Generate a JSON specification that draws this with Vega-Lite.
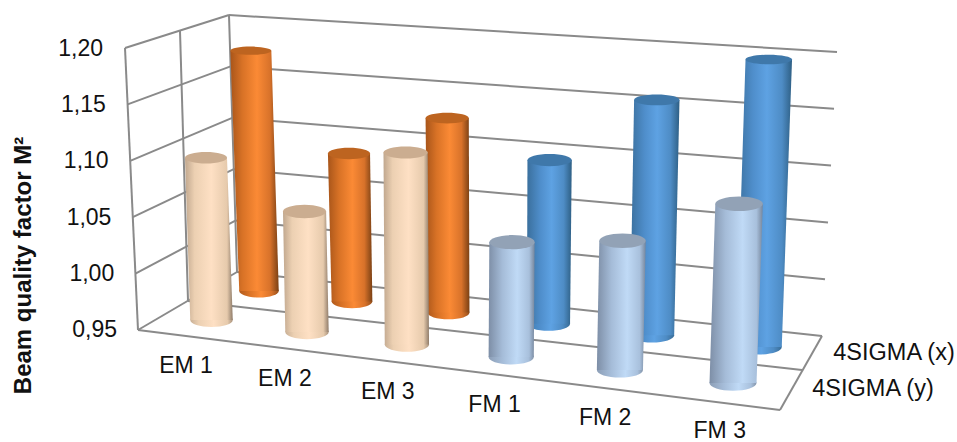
{
  "$schema": "https://vega.github.io/schema/vega-lite/v6.json",
  "width": 957,
  "height": 442,
  "padding": 0,
  "autosize": {"type": "none"},
  "background": "white",
  "config": {
    "view": {"stroke": null},
    "text": {"font": "Liberation Sans", "fontSize": 23, "color": "#111111"}
  },
  "data": {
    "values": [
      {"group": "EM 1", "series": "4SIGMA (y)", "value": 1.097},
      {"group": "EM 2", "series": "4SIGMA (y)", "value": 1.057},
      {"group": "EM 3", "series": "4SIGMA (y)", "value": 1.117},
      {"group": "FM 1", "series": "4SIGMA (y)", "value": 1.048},
      {"group": "FM 2", "series": "4SIGMA (y)", "value": 1.058},
      {"group": "FM 3", "series": "4SIGMA (y)", "value": 1.097},
      {"group": "EM 1", "series": "4SIGMA (x)", "value": 1.178},
      {"group": "EM 2", "series": "4SIGMA (x)", "value": 1.0875},
      {"group": "EM 3", "series": "4SIGMA (x)", "value": 1.127},
      {"group": "FM 1", "series": "4SIGMA (x)", "value": 1.096},
      {"group": "FM 2", "series": "4SIGMA (x)", "value": 1.156},
      {"group": "FM 3", "series": "4SIGMA (x)", "value": 1.197}
    ]
  },
  "transform": [
    {"calculate": "indexof(['EM 1','EM 2','EM 3','FM 1','FM 2','FM 3'], datum.group)", "as": "i"},
    {"calculate": "datum.series === '4SIGMA (x)' ? 1 : 0", "as": "s"},
    {"calculate": "(datum.i < 3 ? 'warm' : 'cool') + (datum.s ? 'Back' : 'Front')", "as": "pal"},
    {"calculate": "datum.s ? 259 + 91.25*datum.i + 1.75*datum.i*datum.i : 211.5 + 93.3*datum.i + 2.2*datum.i*datum.i", "as": "bx"},
    {"calculate": "datum.s ? 291 + 10.4*datum.i + 0.16*datum.i*datum.i : 320 + 12*datum.i + 0.12*datum.i*datum.i", "as": "by"},
    {"calculate": "(datum.value - 0.95) * (datum.s ? 1054 + 22*datum.i : 1104 + 23*datum.i)", "as": "h"},
    {"calculate": "datum.bx + (-0.034 + 0.0136*datum.i) * datum.h", "as": "tx"},
    {"calculate": "datum.by - datum.h", "as": "ty"},
    {"calculate": "['base','top']", "as": "end"},
    {"flatten": ["end"]},
    {"calculate": "datum.end === 'top' ? datum.tx : datum.bx", "as": "px"},
    {"calculate": "datum.end === 'top' ? datum.ty : datum.by", "as": "py"},
    {"calculate": "datum.end === 'top' ? (datum.s ? 41 : 42) + 1.1*datum.i : (datum.s ? 39.5 + 1.2*datum.i : 42.5 + 0.9*datum.i)", "as": "pw"},
    {"calculate": "datum.px - datum.pw/2", "as": "left"},
    {"calculate": "datum.px + datum.pw/2", "as": "right"},
    {"calculate": "datum.pw * datum.pw", "as": "sz"},
    {"calculate": "datum.end === 'top' ? clamp(0.2 + (datum.py - 50)*0.0007, 0.2, 0.31) : 0.33", "as": "squash"},
    {"calculate": "'M-1,0A1,' + datum.squash + ',0,1,0,1,0A1,' + datum.squash + ',0,1,0,-1,0Z'", "as": "disc"}
  ],
  "encoding": {
    "x": {"field": "px", "type": "quantitative", "axis": null, "scale": {"domain": [0, 957], "nice": false, "zero": false}},
    "y": {
      "field": "py",
      "type": "quantitative",
      "scale": {"domain": [442, 0], "nice": false, "zero": false},
      "title": "Beam quality factor M²",
      "axis": {
        "labels": false, "ticks": false, "domain": false, "grid": false,
        "title": "Beam quality factor M²",
        "titleFont": "Liberation Sans", "titleFontSize": 24, "titleFontWeight": "bold", "titleColor": "#111111",
        "titleAngle": 270, "titleAlign": "center", "titleBaseline": "middle",
        "titleX": 23, "titleY": 265
      }
    }
  },
  "layer": [
    {
      "data": {"values": [{"level": 0.95}, {"level": 1.0}, {"level": 1.05}, {"level": 1.1}, {"level": 1.15}, {"level": 1.2}]},
      "transform": [
        {"calculate": "datum.level - 0.95", "as": "L"},
        {"calculate": "138 - datum.L*52", "as": "px"},
        {"calculate": "330 - datum.L*1128", "as": "py"},
        {"calculate": "237 - datum.L*32", "as": "px2"},
        {"calculate": "272 - datum.L*1028", "as": "py2"}
      ],
      "mark": {"type": "rule", "color": "#8a8a8a", "strokeWidth": 2},
      "encoding": {"x2": {"field": "px2"}, "y2": {"field": "py2"}}
    },
    {
      "data": {"values": [{"level": 0.95}, {"level": 1.0}, {"level": 1.05}, {"level": 1.1}, {"level": 1.15}, {"level": 1.2}]},
      "transform": [
        {"calculate": "datum.level - 0.95", "as": "L"},
        {"calculate": "237 - datum.L*32", "as": "px"},
        {"calculate": "272 - datum.L*1028", "as": "py"},
        {"calculate": "822 + datum.L*60", "as": "px2"},
        {"calculate": "336 - datum.L*1136", "as": "py2"}
      ],
      "mark": {"type": "rule", "color": "#8a8a8a", "strokeWidth": 2},
      "encoding": {"x2": {"field": "px2"}, "y2": {"field": "py2"}}
    },
    {
      "data": {"values": [{"edge": "wallFront"}, {"edge": "wallMiddle"}, {"edge": "wallBack"}, {"edge": "floorFront"}, {"edge": "floorMiddle"}, {"edge": "floorSide"}]},
      "transform": [
        {"calculate": "{wallFront:125, wallMiddle:180, wallBack:229, floorFront:138, floorMiddle:188, floorSide:780}[datum.edge]", "as": "px"},
        {"calculate": "{wallFront:48, wallMiddle:31, wallBack:15, floorFront:330, floorMiddle:301, floorSide:410}[datum.edge]", "as": "py"},
        {"calculate": "{wallFront:138, wallMiddle:188, wallBack:237, floorFront:780, floorMiddle:802, floorSide:822}[datum.edge]", "as": "px2"},
        {"calculate": "{wallFront:330, wallMiddle:301, wallBack:272, floorFront:410, floorMiddle:370, floorSide:336}[datum.edge]", "as": "py2"}
      ],
      "mark": {"type": "rule", "color": "#8a8a8a", "strokeWidth": 2},
      "encoding": {"x2": {"field": "px2"}, "y2": {"field": "py2"}}
    },

    {
      "transform": [{"filter": "datum.pal === 'warmBack' && datum.end === 'base'"}],
      "mark": {"type": "point", "filled": true, "opacity": 1, "strokeWidth": 0,
        "color": {"gradient": "linear", "x1": 0, "x2": 1, "y1": 0, "y2": 0, "stops": [
          {"offset": 0, "color": "#b05a1c"}, {"offset": 0.25, "color": "#d87226"}, {"offset": 0.55, "color": "#fb8a35"}, {"offset": 0.82, "color": "#d8722a"}, {"offset": 1, "color": "#96501c"}]}},
      "encoding": {"size": {"field": "sz", "type": "quantitative", "scale": null}, "shape": {"field": "disc", "type": "nominal", "scale": null, "legend": null}}
    },
    {
      "transform": [{"filter": "datum.pal === 'warmBack'"}],
      "mark": {"type": "area", "orient": "horizontal",
        "color": {"gradient": "linear", "x1": 0, "x2": 1, "y1": 0, "y2": 0, "stops": [
          {"offset": 0, "color": "#a8551a"}, {"offset": 0.25, "color": "#d87226"}, {"offset": 0.55, "color": "#fb8a35"}, {"offset": 0.82, "color": "#d8722a"}, {"offset": 1, "color": "#7a4014"}]}},
      "encoding": {
        "x": {"field": "left", "type": "quantitative", "axis": null, "scale": {"domain": [0, 957], "nice": false, "zero": false}},
        "x2": {"field": "right"},
        "detail": {"field": "group"}
      }
    },
    {
      "transform": [{"filter": "datum.pal === 'warmBack' && datum.end === 'top'"}],
      "mark": {"type": "point", "filled": true, "opacity": 1, "strokeWidth": 0, "color": "#bd6420"},
      "encoding": {"size": {"field": "sz", "type": "quantitative", "scale": null}, "shape": {"field": "disc", "type": "nominal", "scale": null, "legend": null}}
    },

    {
      "transform": [{"filter": "datum.pal === 'coolBack' && datum.end === 'base'"}],
      "mark": {"type": "point", "filled": true, "opacity": 1, "strokeWidth": 0,
        "color": {"gradient": "linear", "x1": 0, "x2": 1, "y1": 0, "y2": 0, "stops": [
          {"offset": 0, "color": "#3f7cb0"}, {"offset": 0.3, "color": "#4f8ecb"}, {"offset": 0.55, "color": "#5ea2e3"}, {"offset": 0.82, "color": "#4e8cc5"}, {"offset": 1, "color": "#386c96"}]}},
      "encoding": {"size": {"field": "sz", "type": "quantitative", "scale": null}, "shape": {"field": "disc", "type": "nominal", "scale": null, "legend": null}}
    },
    {
      "transform": [{"filter": "datum.pal === 'coolBack'"}],
      "mark": {"type": "area", "orient": "horizontal",
        "color": {"gradient": "linear", "x1": 0, "x2": 1, "y1": 0, "y2": 0, "stops": [
          {"offset": 0, "color": "#3a6f9c"}, {"offset": 0.3, "color": "#4f8ecb"}, {"offset": 0.55, "color": "#5ea2e3"}, {"offset": 0.82, "color": "#4e8cc5"}, {"offset": 1, "color": "#2e5f84"}]}},
      "encoding": {
        "x": {"field": "left", "type": "quantitative", "axis": null, "scale": {"domain": [0, 957], "nice": false, "zero": false}},
        "x2": {"field": "right"},
        "detail": {"field": "group"}
      }
    },
    {
      "transform": [{"filter": "datum.pal === 'coolBack' && datum.end === 'top'"}],
      "mark": {"type": "point", "filled": true, "opacity": 1, "strokeWidth": 0, "color": "#3f78aa"},
      "encoding": {"size": {"field": "sz", "type": "quantitative", "scale": null}, "shape": {"field": "disc", "type": "nominal", "scale": null, "legend": null}}
    },

    {
      "transform": [{"filter": "datum.pal === 'warmFront' && datum.end === 'base'"}],
      "mark": {"type": "point", "filled": true, "opacity": 1, "strokeWidth": 0,
        "color": {"gradient": "linear", "x1": 0, "x2": 1, "y1": 0, "y2": 0, "stops": [
          {"offset": 0, "color": "#c9b096"}, {"offset": 0.2, "color": "#ecd0b2"}, {"offset": 0.55, "color": "#fee0c4"}, {"offset": 0.88, "color": "#e6caac"}, {"offset": 1, "color": "#a8927c"}]}},
      "encoding": {"size": {"field": "sz", "type": "quantitative", "scale": null}, "shape": {"field": "disc", "type": "nominal", "scale": null, "legend": null}}
    },
    {
      "transform": [{"filter": "datum.pal === 'warmFront'"}],
      "mark": {"type": "area", "orient": "horizontal",
        "color": {"gradient": "linear", "x1": 0, "x2": 1, "y1": 0, "y2": 0, "stops": [
          {"offset": 0, "color": "#c0a78e"}, {"offset": 0.2, "color": "#ecd0b2"}, {"offset": 0.55, "color": "#fee0c4"}, {"offset": 0.88, "color": "#e6caac"}, {"offset": 1, "color": "#8f7c6a"}]}},
      "encoding": {
        "x": {"field": "left", "type": "quantitative", "axis": null, "scale": {"domain": [0, 957], "nice": false, "zero": false}},
        "x2": {"field": "right"},
        "detail": {"field": "group"}
      }
    },
    {
      "transform": [{"filter": "datum.pal === 'warmFront' && datum.end === 'top'"}],
      "mark": {"type": "point", "filled": true, "opacity": 1, "strokeWidth": 0, "color": "#cbad90"},
      "encoding": {"size": {"field": "sz", "type": "quantitative", "scale": null}, "shape": {"field": "disc", "type": "nominal", "scale": null, "legend": null}}
    },

    {
      "transform": [{"filter": "datum.pal === 'coolFront' && datum.end === 'base'"}],
      "mark": {"type": "point", "filled": true, "opacity": 1, "strokeWidth": 0,
        "color": {"gradient": "linear", "x1": 0, "x2": 1, "y1": 0, "y2": 0, "stops": [
          {"offset": 0, "color": "#8c9eb6"}, {"offset": 0.3, "color": "#a5bcd8"}, {"offset": 0.62, "color": "#c0daf6"}, {"offset": 0.88, "color": "#a8c0dc"}, {"offset": 1, "color": "#8495ab"}]}},
      "encoding": {"size": {"field": "sz", "type": "quantitative", "scale": null}, "shape": {"field": "disc", "type": "nominal", "scale": null, "legend": null}}
    },
    {
      "transform": [{"filter": "datum.pal === 'coolFront'"}],
      "mark": {"type": "area", "orient": "horizontal",
        "color": {"gradient": "linear", "x1": 0, "x2": 1, "y1": 0, "y2": 0, "stops": [
          {"offset": 0, "color": "#7d8ea6"}, {"offset": 0.3, "color": "#a5bcd8"}, {"offset": 0.62, "color": "#c0daf6"}, {"offset": 0.88, "color": "#a8c0dc"}, {"offset": 1, "color": "#76869c"}]}},
      "encoding": {
        "x": {"field": "left", "type": "quantitative", "axis": null, "scale": {"domain": [0, 957], "nice": false, "zero": false}},
        "x2": {"field": "right"},
        "detail": {"field": "group"}
      }
    },
    {
      "transform": [{"filter": "datum.pal === 'coolFront' && datum.end === 'top'"}],
      "mark": {"type": "point", "filled": true, "opacity": 1, "strokeWidth": 0, "color": "#92a2b6"},
      "encoding": {"size": {"field": "sz", "type": "quantitative", "scale": null}, "shape": {"field": "disc", "type": "nominal", "scale": null, "legend": null}}
    },

    {
      "data": {"values": [{"level": 0.95}, {"level": 1.0}, {"level": 1.05}, {"level": 1.1}, {"level": 1.15}, {"level": 1.2}]},
      "transform": [
        {"calculate": "datum.level - 0.95", "as": "L"},
        {"calculate": "117 - datum.L*56", "as": "px"},
        {"calculate": "330 - datum.L*1124", "as": "py"},
        {"calculate": "replace(format(datum.level, '.2f'), '.', ',')", "as": "tick"}
      ],
      "mark": {"type": "text", "align": "right", "baseline": "middle"},
      "encoding": {"text": {"field": "tick", "type": "nominal"}}
    },
    {
      "transform": [
        {"filter": "datum.s === 0 && datum.end === 'base'"},
        {"calculate": "186 + 97*datum.i + 1.95*datum.i*datum.i", "as": "px"},
        {"calculate": "366 + 13*datum.i", "as": "py"}
      ],
      "mark": {"type": "text", "align": "center", "baseline": "middle"},
      "encoding": {"text": {"field": "group", "type": "nominal"}}
    },
    {
      "transform": [
        {"filter": "datum.i === 5 && datum.end === 'base'"},
        {"calculate": "datum.s ? 894 : 873", "as": "px"},
        {"calculate": "datum.s ? 353 : 389", "as": "py"}
      ],
      "mark": {"type": "text", "align": "center", "baseline": "middle", "fontSize": 23.5},
      "encoding": {"text": {"field": "series", "type": "nominal"}}
    }
  ]
}
